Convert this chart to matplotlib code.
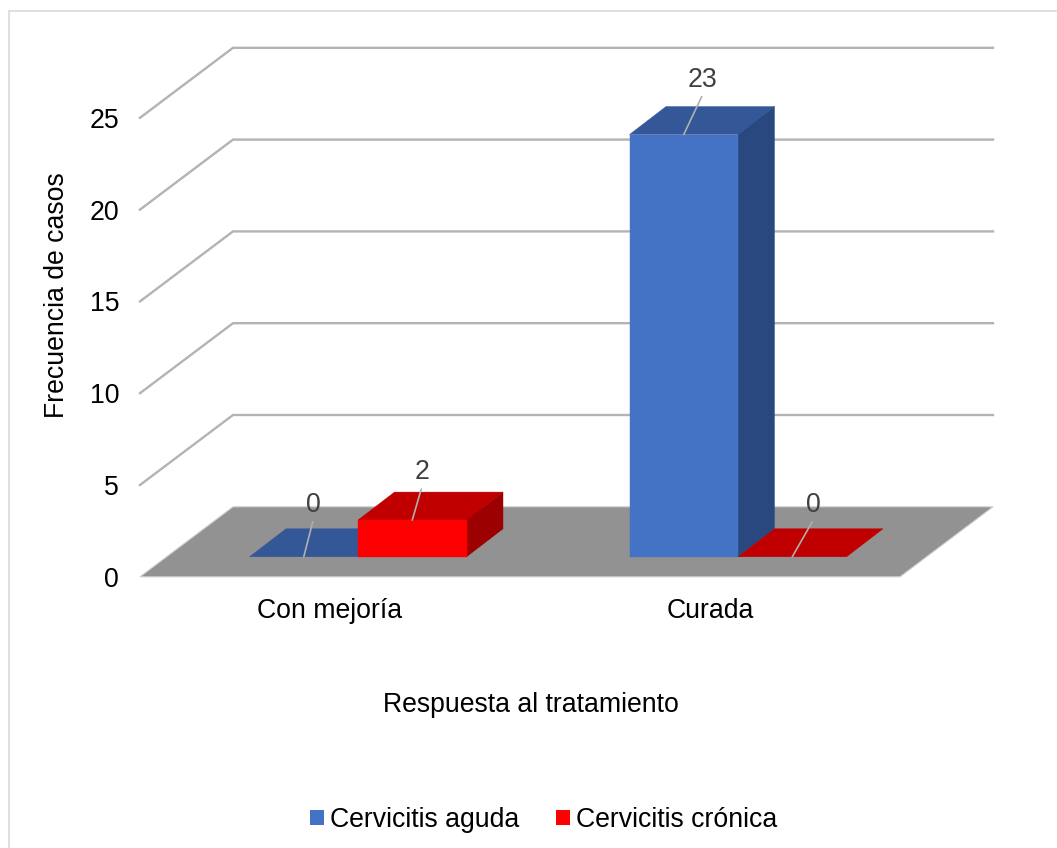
"""Respuesta al tratamiento: columnas con aspecto 3D dibujadas sobre ejes normales."""
import matplotlib
matplotlib.use('Agg')
import matplotlib.pyplot as plt
from matplotlib.patches import Rectangle, Patch

plt.rcParams['font.family'] = ['Liberation Sans', 'DejaVu Sans']

categories = ['Con mejoría', 'Curada']
aguda = [0, 23]
cronica = [2, 0]
series_names = ['Cervicitis aguda', 'Cervicitis crónica']
y_ticks = [0, 5, 10, 15, 20, 25]

W, H = 1057, 848
FS = 19.2
fig = plt.figure(figsize=(W/100, H/100), dpi=100)
# marco: solo se ve arriba y a la izquierda
fig.add_artist(Rectangle((9/W, 1-900/H), 1100/W, 889/H, transform=fig.transFigure,
                         fc='white', ec='#d9d9d9', lw=1.2, zorder=-1))

# ejes = plano frontal del suelo, 140..900 px en x, 25 -> 118 px, 0 -> 577 px
ax = fig.add_axes([140/W, 1-576.8/H, 760/W, 459/H])
ax.set_xlim(-0.5, 1.5); ax.set_ylim(0, 25)
ax.patch.set_visible(False)
for s in ax.spines.values(): s.set_visible(False)

PX, PY = 380.0, 459/25.0      # px por unidad
def sx(px): return px/PX
def sy(px): return px/PY
DEPTH_X, DEPTH_Y = sx(93), sy(70)
BAR_W = sx(108.5)

def poly(pts, **kw):
    ax.fill([p[0] for p in pts], [p[1] for p in pts], clip_on=False, **kw)

# paredes / rejilla
for v in y_ticks[1:]:
    ax.plot([-0.5, -0.5+DEPTH_X, 1.5+DEPTH_X], [v, v+DEPTH_Y, v+DEPTH_Y], color='#b3b3b3',
            lw=1.7, clip_on=False, solid_joinstyle='miter', zorder=1)
# suelo
poly([(-0.5, 0), (1.5, 0), (1.5+DEPTH_X, DEPTH_Y), (-0.5+DEPTH_X, DEPTH_Y)],
     fc='#929292', ec='#cfcfcf', lw=0.8, zorder=2)

def bar3d(x0, v, front, top, side, z):
    # caja: frente a 20 px del borde del suelo, 28 px de fondo
    x = x0 + sx(28); y = sy(20); dx = sx(36.5); dy = sy(28)
    poly([(x, y+v), (x+dx, y+v+dy), (x+BAR_W+dx, y+v+dy), (x+BAR_W, y+v)], fc=top, ec=top, lw=0.3, zorder=z)
    if v > 0:
        poly([(x+BAR_W, y), (x+BAR_W+dx, y+dy), (x+BAR_W+dx, y+v+dy), (x+BAR_W, y+v)], fc=side, ec=side, lw=0.3, zorder=z)
        poly([(x, y), (x+BAR_W, y), (x+BAR_W, y+v), (x, y+v)], fc=front, ec=front, lw=0.3, zorder=z+0.1)

label_offsets = {(0, 0): (9, 35), (0, 1): (9, 31), (1, 0): (18, 38), (1, 1): (20, 35)}
text_gap = 17
for c in range(len(categories)):
    for k, (vals, cols) in enumerate([(aguda, ('#4472c4', '#345897', '#2a4880')),
                                      (cronica, ('#ff0000', '#c00000', '#9c0000'))]):
        x0 = c + (k-1)*BAR_W
        bar3d(x0, vals[c], cols[0], cols[1], cols[2], 3+k+c*2)
        xa = x0 + sx(28) + BAR_W/2
        ya = sy(20) + vals[c]
        ox, oy = label_offsets[(c, k)]
        ax.annotate('', xy=(xa, ya), xytext=(ox, oy), textcoords=('offset pixels'), annotation_clip=False,
                    arrowprops=dict(arrowstyle='-', color='#b0b0b0', lw=1.2, shrinkA=0, shrinkB=0), zorder=10)
        ax.annotate(str(vals[c]), xy=(xa, ya), xytext=(ox+1, oy+text_gap), textcoords='offset pixels',
                    ha='center', va='center', fontsize=FS, color='#404040', annotation_clip=False, zorder=10)

ax.set_xticks(range(len(categories))); ax.set_xticklabels(categories, fontsize=FS, color='black')
ax.set_yticks(y_ticks); ax.set_yticklabels([str(v) for v in y_ticks], fontsize=FS, color='black',
                                           va='center_baseline')
ax.tick_params(axis='both', length=0)
ax.tick_params(axis='y', pad=15)
ax.tick_params(axis='x', pad=15.5)

fig.text(531/W, 1-705.5/H, 'Respuesta al tratamiento', ha='center', va='center', fontsize=FS)
fig.text(57.5/W, 1-295/H, 'Frecuencia de casos', rotation=90, ha='center', va='center', fontsize=FS)

handles = [Patch(fc='#4472c4', ec='none'), Patch(fc='#ff0000', ec='none')]
fig.legend(handles, series_names, loc='center', bbox_to_anchor=(543.5/W, 1-820/H), ncol=2, frameon=False,
           fontsize=FS, handlelength=0.525, handleheight=0.525, handletextpad=0.225, columnspacing=1.39,
           borderpad=0, borderaxespad=0)

fig.savefig('out.png', dpi=100)
